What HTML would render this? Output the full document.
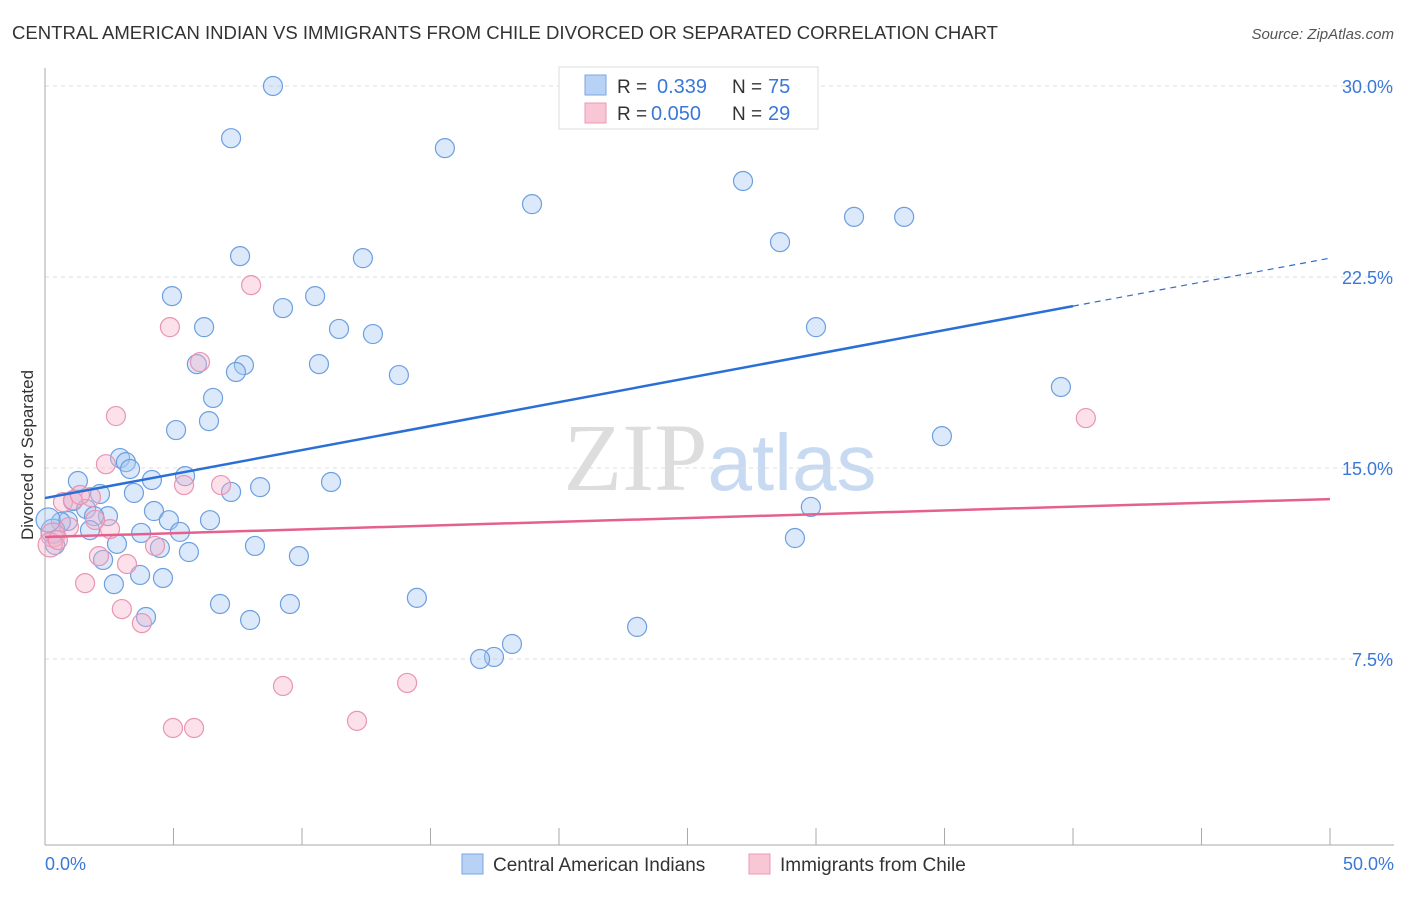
<!DOCTYPE html>
<html><head><meta charset="utf-8"><style>
body{margin:0;background:#fff;font-family:"Liberation Sans",sans-serif}
</style></head><body>
<svg id="chart" width="1406" height="892" xmlns="http://www.w3.org/2000/svg" font-family="Liberation Sans, sans-serif">
<text x="12" y="39" font-size="18" fill="#333" textLength="986" lengthAdjust="spacingAndGlyphs">CENTRAL AMERICAN INDIAN VS IMMIGRANTS FROM CHILE DIVORCED OR SEPARATED CORRELATION CHART</text>
<text x="1394" y="39" font-size="15" fill="#555" text-anchor="end" font-style="italic">Source: ZipAtlas.com</text>
<text x="720" y="490" font-size="96" text-anchor="middle" fill="#ddd" font-family="Liberation Serif, serif">ZIP<tspan fill="#c8daf2" font-family="Liberation Sans, sans-serif" font-size="80">atlas</tspan></text>
<g id="grid"></g><g id="axes"></g><g id="pts"></g><g id="trend"></g>
<text transform="translate(33,455) rotate(-90)" font-size="17" fill="#333" text-anchor="middle">Divorced or Separated</text>
<g>
<rect x="559" y="67" width="259" height="62" fill="#fff" stroke="#ddd"/>
<rect x="585" y="75" width="21" height="20" fill="#b8d2f5" stroke="#7aa6e0"/>
<rect x="585" y="103" width="21" height="20" fill="#f9c6d6" stroke="#eb9ab5"/>
<text x="617" y="93" font-size="19" fill="#333">R =</text>
<text x="657" y="93" font-size="20" fill="#3a78d8">0.339</text>
<text x="732" y="93" font-size="19" fill="#333">N =</text>
<text x="768" y="93" font-size="20" fill="#3a78d8">75</text>
<text x="617" y="120" font-size="19" fill="#333">R =</text>
<text x="651" y="120" font-size="20" fill="#3a78d8">0.050</text>
<text x="732" y="120" font-size="19" fill="#333">N =</text>
<text x="768" y="120" font-size="20" fill="#3a78d8">29</text>
</g>
<g>
<rect x="462" y="854" width="21" height="20" fill="#b8d2f5" stroke="#7aa6e0"/>
<text x="493" y="871" font-size="19" fill="#333">Central American Indians</text>
<rect x="749" y="854" width="21" height="20" fill="#f9c6d6" stroke="#eb9ab5"/>
<text x="780" y="871" font-size="19" fill="#333">Immigrants from Chile</text>
</g>
</svg>
<script>
const blueX=[8.87,7.24,15.56,18.95,27.16,31.48,33.43,28.6,7.59,12.37,4.94,10.51,9.26,6.19,11.44,12.76,30.0,5.91,7.74,10.66,7.43,13.77,39.53,6.54,6.38,5.1,34.9,2.92,3.15,3.31,5.45,4.16,1.28,11.13,8.37,3.46,7.24,2.14,1.09,1.6,29.8,4.24,2.45,1.91,4.82,0.89,0.62,6.42,1.75,3.74,5.25,0.31,29.18,2.8,8.17,4.47,5.6,9.88,2.26,0.39,3.7,4.59,2.68,14.47,6.81,9.53,3.93,7.98,23.04,18.17,17.47,16.93,0.12];
const blueY=[30.0,27.95,27.56,25.36,26.27,24.86,24.86,23.87,23.32,23.24,21.75,21.75,21.28,20.53,20.46,20.26,20.53,19.08,19.04,19.08,18.77,18.65,18.18,17.75,16.84,16.49,16.25,15.39,15.23,14.96,14.68,14.53,14.49,14.45,14.25,14.02,14.06,13.98,13.7,13.39,13.47,13.31,13.11,13.11,12.95,12.92,12.88,12.95,12.56,12.45,12.49,12.52,12.25,12.02,11.94,11.86,11.7,11.54,11.39,11.98,10.8,10.68,10.44,9.9,9.66,9.66,9.15,9.03,8.76,8.09,7.58,7.5,12.96];
const pinkX=[8.02,4.86,6.03,2.76,40.5,2.37,5.41,6.85,1.79,0.7,1.09,2.53,0.93,0.31,2.1,4.28,3.19,1.56,2.99,3.77,9.26,14.09,12.14,4.98,5.8,0.2,0.5,1.36,1.95];
const pinkY=[22.18,20.53,19.16,17.04,16.96,15.15,14.33,14.33,13.86,13.66,13.74,12.6,12.68,12.37,11.54,11.94,11.23,10.48,9.46,8.91,6.44,6.56,5.07,4.79,4.79,11.98,12.17,13.94,12.96];
const yTicks=[7.5,15,22.5,30];
const xTickLabels=["0.0%","50.0%"];
const blueTrend=[13.82,23.24];
const pinkTrend=[12.29,13.78];
const X=v=>45+v*25.7, Y=v=>850-v*25.467;
const NS="http://www.w3.org/2000/svg";
function mk(tag,attrs,parent){const e=document.createElementNS(NS,tag);for(const k in attrs)e.setAttribute(k,attrs[k]);parent.appendChild(e);return e;}
const grid=document.getElementById('grid'),axes=document.getElementById('axes'),pts=document.getElementById('pts'),tr=document.getElementById('trend');
yTicks.forEach(t=>{const l=mk('line',{x1:45,x2:1394,y1:Y(t),y2:Y(t),stroke:'#ddd','stroke-dasharray':'4,4'},grid);


const tx=mk('text',{x:1393,y:Y(t)+7,'font-size':18,fill:'#3a78d8','text-anchor':'end'},grid);tx.textContent=t.toFixed(1)+'%';

});
const ax=mk('line',{x1:45,x2:45,y1:68,y2:845,stroke:'#aaa'},axes);


const bx=mk('line',{x1:45,x2:1394,y1:845,y2:845,stroke:'#aaa'},axes);


for(let i=0;i<=10;i++){const t=mk('line',{x1:X(i*5),x2:X(i*5),y1:828,y2:845,stroke:'#aaa'},axes);

}
[[0,'start',45],[50,'end',1394]].forEach((d,i)=>{const t=mk('text',{x:d[2],y:870,'font-size':18,fill:'#3a78d8','text-anchor':d[1]},axes);t.textContent=xTickLabels[i];

});
function dots(xs,ys,fill,stroke,name){xs.forEach((x,i)=>{const r=(x<0.35)?12:9.5;const c=mk('circle',{cx:X(x),cy:Y(ys[i]),r:r,fill:fill,stroke:stroke,'stroke-width':1.2},pts);

});}
dots(blueX,blueY,'rgba(165,199,242,0.4)','#6d9fe0','blue-point');
dots(pinkX,pinkY,'rgba(246,176,200,0.38)','#e895b3','pink-point');
const bSlope=(blueTrend[1]-blueTrend[0])/50;
const b1=mk('line',{x1:X(0),y1:Y(blueTrend[0]),x2:X(40),y2:Y(blueTrend[0]+bSlope*40),stroke:'#2a6fd6','stroke-width':2.5},tr);


const b2=mk('line',{x1:X(40),y1:Y(blueTrend[0]+bSlope*40),x2:X(50),y2:Y(blueTrend[1]),stroke:'#2a6fd6','stroke-width':1.2,'stroke-dasharray':'6,5'},tr);


const p1=mk('line',{x1:X(0),y1:Y(pinkTrend[0]),x2:X(50),y2:Y(pinkTrend[1]),stroke:'#e5608e','stroke-width':2.5},tr);


</script>
</body></html>
